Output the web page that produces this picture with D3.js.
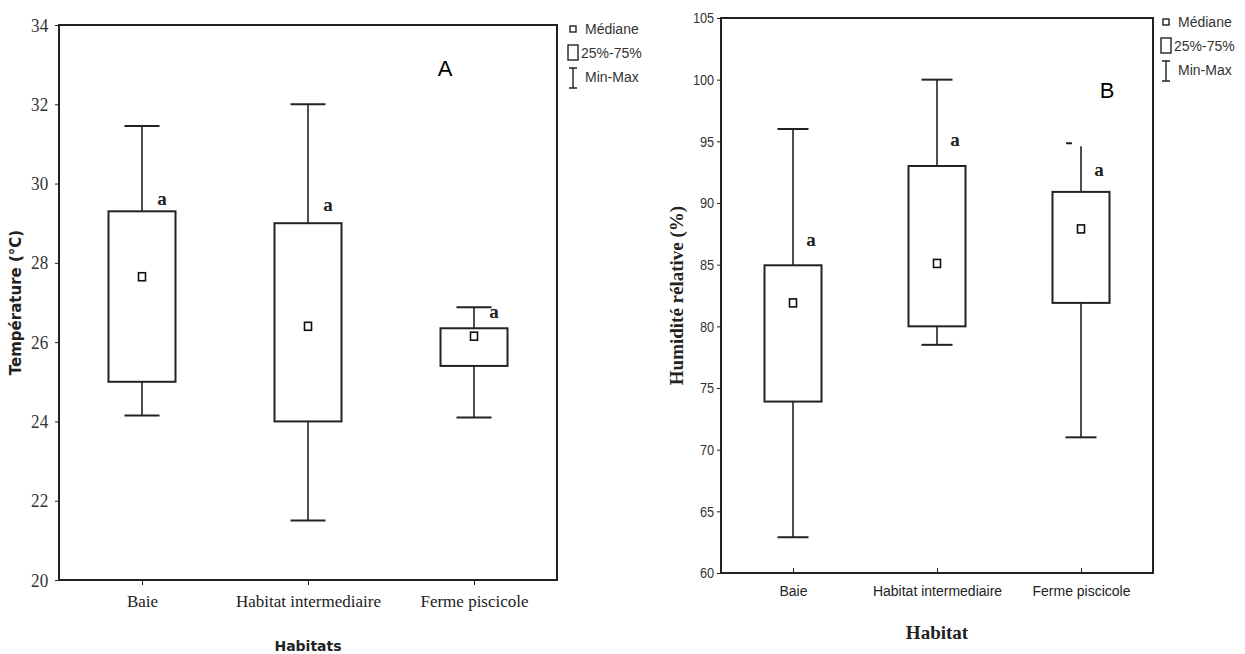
<!DOCTYPE html>
<html>
<head>
<meta charset="utf-8">
<script src="https://cdn.jsdelivr.net/npm/d3@7"></script>
<style>
  body { margin: 0; background: #fff; }
  .tick text { fill: #333; }
</style>
</head>
<body>
<svg width="1245" height="654"></svg>
<script>
// catégories (mêmes pour les deux panneaux)
const habitats = ["Baie", "Habitat intermediaire", "Ferme piscicole"];

// Panneau A : température (°C)
const tempMin = [24.15, 21.5, 24.1];
const tempQ1 = [25.0, 24.0, 25.4];
const tempMed = [27.65, 26.4, 26.15];
const tempQ3 = [29.3, 29.0, 26.35];
const tempMax = [31.45, 32.0, 26.88];
const tempLetters = ["a", "a", "a"];
const tempLetterY = [29.45, 29.3, 26.6];
const tempTicks = [20, 22, 24, 26, 28, 30, 32, 34];

// Panneau B : humidité relative (%)
const humMin = [62.9, 78.5, 71.0];
const humQ1 = [73.9, 80.0, 81.9];
const humMed = [81.9, 85.1, 87.9];
const humQ3 = [84.95, 93.0, 90.9];
const humMax = [96.0, 100.0, 94.6];
const humLetters = ["a", "a", "a"];
const humLetterY = [86.5, 94.6, 92.2];
const humTicks = [60, 65, 70, 75, 80, 85, 90, 95, 100, 105];

const svg = d3.select("svg");

function drawPanel(p) {
    const g = svg.append("g");

    const x = d3.scalePoint()
        .domain(habitats)
        .range([p.left, p.right])
        .padding(0.5);

    const y = d3.scaleLinear()
        .domain(p.domain)
        .range([p.bottom, p.top]);

    // cadre
    g.append("rect")
        .attr("x", p.left)
        .attr("y", p.top)
        .attr("width", p.right - p.left)
        .attr("height", p.bottom - p.top)
        .attr("fill", "none")
        .attr("stroke", "#222")
        .attr("stroke-width", 2);

    // axe Y
    const yAxis = g.append("g")
        .attr("transform", `translate(${p.left},0)`)
        .call(d3.axisLeft(y).tickValues(p.ticks).tickSize(4).tickPadding(p.yPad));
    yAxis.select(".domain").remove();
    yAxis.selectAll(".tick line").attr("stroke", "#222");
    yAxis.selectAll(".tick text")
        .attr("transform", `scale(${p.tickScale},1)`)
        .style("font-family", p.tickFamily)
        .style("font-size", p.tickFont);

    // axe X
    const xAxis = g.append("g")
        .attr("transform", `translate(0,${p.bottom})`)
        .call(d3.axisBottom(x).tickSize(p.xTickIn ? -5 : 5).tickPadding(p.xPad));
    xAxis.select(".domain").remove();
    xAxis.selectAll(".tick line").attr("stroke", "#222");
    xAxis.selectAll(".tick text")
        .style("font-family", p.catFamily)
        .style("font-size", p.catFont)
        .style("fill", "#222");

    // boîtes
    const rows = habitats.map((h, i) => ({
        h: h, min: p.min[i], q1: p.q1[i], med: p.med[i], q3: p.q3[i], max: p.max[i],
        letter: p.letters[i], ly: p.letterY[i]
    }));

    const box = g.selectAll("g.box")
        .data(rows)
        .enter().append("g")
        .attr("class", "box");

    // moustache haute et basse
    box.append("line")
        .attr("x1", d => x(d.h)).attr("x2", d => x(d.h))
        .attr("y1", d => y(d.q3)).attr("y2", d => y(d.max))
        .attr("stroke", "#222").attr("stroke-width", 1.6);
    box.append("line")
        .attr("x1", d => x(d.h)).attr("x2", d => x(d.h))
        .attr("y1", d => y(d.q1)).attr("y2", d => y(d.min))
        .attr("stroke", "#222").attr("stroke-width", 1.6);

    // bouchons (sauf le max de Ferme piscicole en B, coupé dans l'original)
    box.filter((d, i) => !(p.brokenCap === i))
        .append("line")
        .attr("x1", d => x(d.h) - p.capW / 2).attr("x2", d => x(d.h) + p.capW / 2)
        .attr("y1", d => y(d.max)).attr("y2", d => y(d.max))
        .attr("stroke", "#222").attr("stroke-width", 2);
    box.filter((d, i) => p.brokenCap === i)
        .append("line")
        .attr("x1", d => x(d.h) - 15).attr("x2", d => x(d.h) - 9)
        .attr("y1", d => y(d.max) - 3).attr("y2", d => y(d.max) - 3)
        .attr("stroke", "#222").attr("stroke-width", 2);
    box.append("line")
        .attr("x1", d => x(d.h) - p.capW / 2).attr("x2", d => x(d.h) + p.capW / 2)
        .attr("y1", d => y(d.min)).attr("y2", d => y(d.min))
        .attr("stroke", "#222").attr("stroke-width", 2);

    // boîte 25%-75%
    box.append("rect")
        .attr("x", d => x(d.h) - p.boxW / 2)
        .attr("y", d => y(d.q3))
        .attr("width", p.boxW)
        .attr("height", d => y(d.q1) - y(d.q3))
        .attr("fill", "#fff")
        .attr("stroke", "#222")
        .attr("stroke-width", 2);

    // médiane
    box.append("rect")
        .attr("x", d => x(d.h) - 3.5)
        .attr("y", d => y(d.med) - 4)
        .attr("width", 7)
        .attr("height", 8)
        .attr("fill", "#fff")
        .attr("stroke", "#111")
        .attr("stroke-width", 1.6);

    // lettres de significativité
    box.append("text")
        .attr("x", d => x(d.h) + p.letterDx)
        .attr("y", d => y(d.ly))
        .attr("text-anchor", "middle")
        .style("font-family", "'Liberation Serif', 'Times New Roman', serif")
        .style("font-weight", "bold")
        .style("font-size", "19px")
        .style("fill", "#222")
        .text(d => d.letter);

    // titre de l'axe Y
    g.append("text")
        .attr("transform", `translate(${p.yLabelX},${(p.top + p.bottom) / 2 + p.yLabelDy}) rotate(-90)`)
        .attr("text-anchor", "middle")
        .style("font-family", p.yLabelFamily)
        .style("font-weight", "bold")
        .style("font-size", p.yLabelFont)
        .style("fill", "#222")
        .text(p.yLabel);

    // titre de l'axe X
    g.append("text")
        .attr("x", x(habitats[1]))
        .attr("y", p.xLabelY)
        .attr("text-anchor", "middle")
        .style("font-family", p.xLabelFamily)
        .style("font-weight", "bold")
        .style("font-size", p.xLabelFont)
        .style("fill", "#222")
        .text(p.xLabel);

    // lettre du panneau
    g.append("text")
        .attr("x", p.panelX)
        .attr("y", p.panelY)
        .attr("text-anchor", "middle")
        .style("font-family", "'Liberation Sans', Arial, sans-serif")
        .style("font-size", "22px")
        .style("fill", "#000")
        .text(p.panel);

    // légende
    const lg = g.append("g")
        .attr("transform", `translate(${p.legX},${p.legY})`)
        .style("font-family", "'Liberation Sans', Arial, sans-serif")
        .style("font-size", "14px")
        .style("fill", "#333");
    lg.append("rect")
        .attr("x", -3).attr("y", -3).attr("width", 6).attr("height", 6)
        .attr("fill", "#fff").attr("stroke", "#222").attr("stroke-width", 1.4);
    lg.append("text").attr("x", 12).attr("y", 5).text("Médiane");
    lg.append("rect")
        .attr("x", -5).attr("y", 16).attr("width", 10).attr("height", 15)
        .attr("fill", "#fff").attr("stroke", "#222").attr("stroke-width", 1.4);
    lg.append("text").attr("x", 8).attr("y", 29).text("25%-75%");
    lg.append("path")
        .attr("d", "M-4,39H4M0,39V59M-4,59H4")
        .attr("fill", "none").attr("stroke", "#222").attr("stroke-width", 1.4);
    lg.append("text").attr("x", 12).attr("y", 53).text("Min-Max");
}

drawPanel({
    left: 59, right: 557, top: 25, bottom: 580,
    domain: [20, 34], ticks: tempTicks,
    min: tempMin, q1: tempQ1, med: tempMed, q3: tempQ3, max: tempMax,
    letters: tempLetters, letterY: tempLetterY, letterDx: 20,
    boxW: 67, capW: 35, brokenCap: -1,
    tickFont: "19px", tickScale: 0.9, yPad: 8,
    tickFamily: "'Liberation Serif', 'Times New Roman', serif",
    catFont: "17px", xPad: 10, xTickIn: false,
    catFamily: "'Liberation Serif', 'Times New Roman', serif",
    yLabel: "Température (°C)", yLabelX: 21, yLabelDy: 0, yLabelFont: "15px",
    yLabelFamily: "'DejaVu Sans', Verdana, sans-serif",
    xLabel: "Habitats", xLabelY: 651, xLabelFont: "14px",
    xLabelFamily: "'DejaVu Sans', Verdana, sans-serif",
    panel: "A", panelX: 445, panelY: 76,
    legX: 573, legY: 29
});

drawPanel({
    left: 721, right: 1153, top: 18, bottom: 573,
    domain: [60, 105], ticks: humTicks,
    min: humMin, q1: humQ1, med: humMed, q3: humQ3, max: humMax,
    letters: humLetters, letterY: humLetterY, letterDx: 18,
    boxW: 57, capW: 31, brokenCap: 2,
    tickFont: "15px", tickScale: 0.85, yPad: 4,
    tickFamily: "'Liberation Sans', Arial, sans-serif",
    catFont: "14px", xPad: 13, xTickIn: true,
    catFamily: "'Liberation Sans', Arial, sans-serif",
    yLabel: "Humidité rélative (%)", yLabelX: 683, yLabelDy: 0, yLabelFont: "19px",
    yLabelFamily: "'Liberation Serif', 'Times New Roman', serif",
    xLabel: "Habitat", xLabelY: 639, xLabelFont: "19px",
    xLabelFamily: "'Liberation Serif', 'Times New Roman', serif",
    panel: "B", panelX: 1107, panelY: 98,
    legX: 1166, legY: 22
});
</script>
</body>
</html>
